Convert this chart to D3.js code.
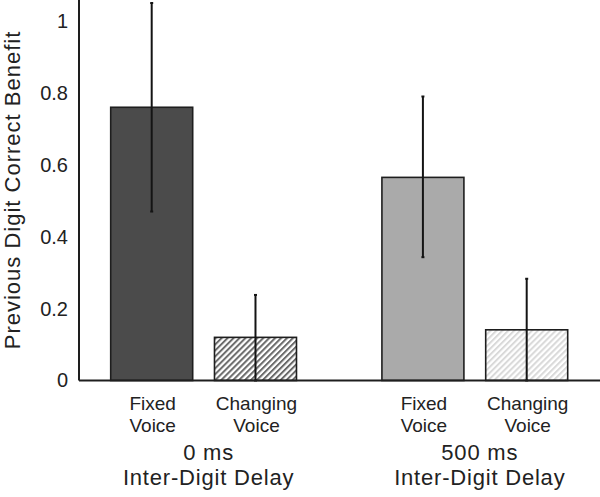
<!DOCTYPE html>
<html>
<head>
<meta charset="utf-8">
<script src="https://cdn.jsdelivr.net/npm/d3@7"></script>
<style>
  html, body { margin: 0; padding: 0; background: #fff; }
  svg { display: block; font-family: "Liberation Sans", Arial, Helvetica, sans-serif; }
</style>
</head>
<body>
<svg id="chart" width="600" height="497"></svg>
<script>
// ---- data ----
const groups = ["0 ms", "500 ms"];
const groupSubtitle = ["Inter-Digit Delay", "Inter-Digit Delay"];
const conditions = ["Fixed Voice", "Changing Voice"];
const conditionLines = [["Fixed", "Voice"], ["Changing", "Voice"]];
const means = [[0.76, 0.12], [0.565, 0.141]];
const errLow = [[0.47, 0.0], [0.343, 0.0]];
const errHigh = [[1.05, 0.238], [0.79, 0.283]];
const yTicks = [0, 0.2, 0.4, 0.6, 0.8, 1];
const yTickLabels = ["0", "0.2", "0.4", "0.6", "0.8", "1"];
const yTitle = "Previous Digit Correct Benefit";

// ---- layout ----
const svg = d3.select("#chart");
const axisX = 79;
const baseY = 380.5;
const FONT = "Liberation Sans, Arial, Helvetica, sans-serif";

const y = d3.scaleLinear().domain([0, 1.0584]).range([baseY, 0]);
const x0 = d3.scaleBand().domain(groups).range([110.7, 567.7]).paddingInner(0.315).paddingOuter(0);
const x1 = d3.scaleBand().domain(conditions).range([0, x0.bandwidth()]).paddingInner(0.21).paddingOuter(0);

// patterns
const defs = svg.append("defs");
function hatch(id, color) {
  const p = defs.append("pattern")
    .attr("id", id)
    .attr("patternUnits", "userSpaceOnUse")
    .attr("width", 4.2).attr("height", 4.2)
    .attr("patternTransform", "rotate(45)");
  p.append("rect").attr("width", 4.2).attr("height", 4.2).attr("fill", "#fff");
  p.append("rect").attr("x", 0).attr("y", 0).attr("width", 2).attr("height", 4.2).attr("fill", color);
}
hatch("hatchDark", "#6a6a6a");
hatch("hatchLight", "#d9d9d9");

const fills = [["#4b4b4b", "url(#hatchDark)"], ["#aaaaaa", "url(#hatchLight)"]];

// bars
groups.forEach((g, gi) => {
  const gx = x0(g);
  conditions.forEach((c, ci) => {
    const bx = gx + x1(c);
    const bw = x1.bandwidth();
    svg.append("rect")
      .attr("x", bx).attr("y", y(means[gi][ci]))
      .attr("width", bw).attr("height", y(0) - y(means[gi][ci]))
      .attr("fill", fills[gi][ci])
      .attr("stroke", "#1e1e1e").attr("stroke-width", 1.6);
  });
});

// error bars
groups.forEach((g, gi) => {
  conditions.forEach((c, ci) => {
    const cx = x0(g) + x1(c) + x1.bandwidth() / 2;
    svg.append("line")
      .attr("x1", cx).attr("x2", cx)
      .attr("y1", y(errLow[gi][ci])).attr("y2", y(errHigh[gi][ci]))
      .attr("stroke", "#141414").attr("stroke-width", 2);
    [errLow[gi][ci], errHigh[gi][ci]].forEach(v => {
      svg.append("line")
        .attr("x1", cx - 1.5).attr("x2", cx + 1.5)
        .attr("y1", y(v)).attr("y2", y(v))
        .attr("stroke", "#141414").attr("stroke-width", 2);
    });
  });
});

// baseline and y axis line
svg.append("line")
  .attr("x1", axisX).attr("x2", 600)
  .attr("y1", baseY).attr("y2", baseY)
  .attr("stroke", "#1e1e1e").attr("stroke-width", 2);

const yAxis = d3.axisLeft(y)
  .tickValues(yTicks)
  .tickFormat((d, i) => yTickLabels[i])
  .tickSize(0)
  .tickPadding(11);
const ya = svg.append("g").attr("transform", `translate(${axisX},0)`).call(yAxis);
ya.attr("font-family", FONT).attr("font-size", 20);
ya.select(".domain").remove();
ya.selectAll("text").attr("fill", "#222");
svg.append("line")
  .attr("x1", axisX).attr("x2", axisX)
  .attr("y1", 0).attr("y2", baseY)
  .attr("stroke", "#1e1e1e").attr("stroke-width", 2);

// y title
svg.append("text")
  .attr("transform", `translate(20,${190}) rotate(-90)`)
  .attr("text-anchor", "middle")
  .attr("font-size", 22)
  .attr("letter-spacing", 1)
  .attr("fill", "#222")
  .text(yTitle);

// condition labels
groups.forEach((g, gi) => {
  conditions.forEach((c, ci) => {
    const cx = x0(g) + x1(c) + x1.bandwidth() / 2 + 1;
    conditionLines[ci].forEach((t, li) => {
      svg.append("text")
        .attr("x", cx).attr("y", 410 + li * 22)
        .attr("text-anchor", "middle")
        .attr("font-size", 19)
        .attr("fill", "#222")
        .text(t);
    });
  });
  const gc = x0(g) + x0.bandwidth() / 2 + 5;
  svg.append("text")
    .attr("x", gc).attr("y", 460)
    .attr("text-anchor", "middle")
    .attr("font-size", 22)
    .attr("letter-spacing", 0.8)
    .attr("fill", "#222")
    .text(g);
  svg.append("text")
    .attr("x", gc).attr("y", 485)
    .attr("text-anchor", "middle")
    .attr("font-size", 22)
    .attr("letter-spacing", 0.8)
    .attr("fill", "#222")
    .text(groupSubtitle[gi]);
});
</script>
</body>
</html>
